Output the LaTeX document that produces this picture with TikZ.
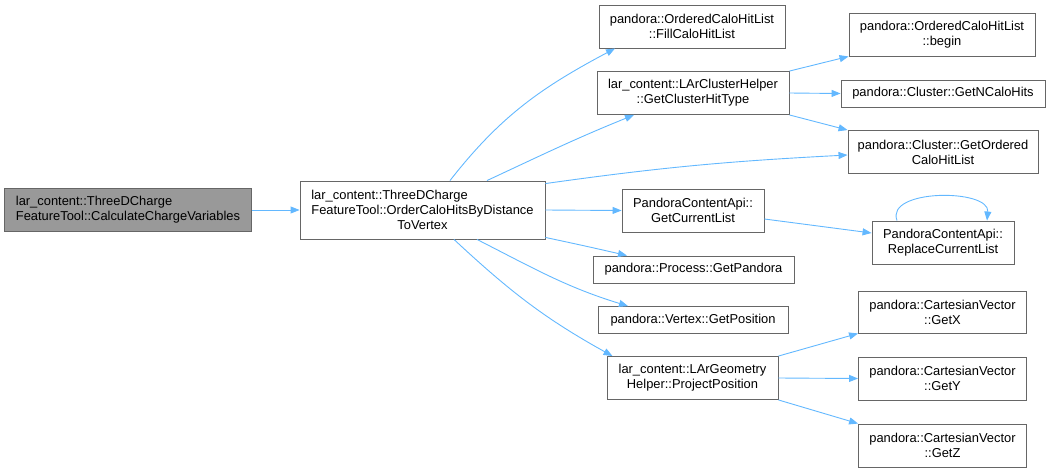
\documentclass[tikz,border=0pt]{standalone}
\usepackage{fontspec}
\setmainfont{Liberation Sans}
\usetikzlibrary{arrows.meta}
\definecolor{edgeblue}{HTML}{63B8FF}
\definecolor{nodeborder}{HTML}{666666}
\definecolor{nodegray}{HTML}{999999}
\newcommand\lastln[1]{\hspace*{\fill}#1\hspace*{\fill}}
\begin{document}
\begin{tikzpicture}[x=1pt,y=1pt,
  fn/.style={draw=nodeborder, line width=0.9pt, fill=white, inner sep=0pt,
    align=left, font=\fontsize{12.9}{15}\selectfont, text=black},
  cur/.style={fn, fill=nodegray},
  e/.style={draw=edgeblue, line width=0.9pt, -{Triangle[length=9pt,width=7pt]}}]
\useasboundingbox (0,0) rectangle (1050,-472);
\node[cur, minimum width=247pt, minimum height=43pt] (A) at (128,-210)
  {lar\_content::ThreeDCharge\\FeatureTool::CalculateChargeVariables};
\node[fn, minimum width=245pt, minimum height=58pt] (B) at (422.5,-210)
  {lar\_content::ThreeDCharge\\FeatureTool::OrderCaloHitsByDistance\\\lastln{ToVertex}};
\node[fn, minimum width=186pt, minimum height=43pt] (C) at (692,-26.5)
  {pandora::OrderedCaloHitList\\\lastln{::FillCaloHitList}};
\node[fn, minimum width=192pt, minimum height=43pt] (D) at (693,-93)
  {lar\_content::LArClusterHelper\\\lastln{::GetClusterHitType}};
\node[fn, minimum width=186pt, minimum height=43pt] (E) at (942,-34.5)
  {pandora::OrderedCaloHitList\\\lastln{::begin}};
\node[fn, minimum width=204pt, minimum height=27pt] (F) at (943,-93.5)
  {pandora::Cluster::GetNCaloHits};
\node[fn, minimum width=190pt, minimum height=43pt] (G) at (943,-152)
  {pandora::Cluster::GetOrdered\\\lastln{CaloHitList}};
\node[fn, minimum width=142pt, minimum height=43pt] (H) at (693,-210.5)
  {PandoraContentApi::\\\lastln{GetCurrentList}};
\node[fn, minimum width=142pt, minimum height=43pt] (I) at (943,-242.5)
  {PandoraContentApi::\\\lastln{ReplaceCurrentList}};
\node[fn, minimum width=201pt, minimum height=27pt] (J) at (693.5,-269.5)
  {pandora::Process::GetPandora};
\node[fn, minimum width=190pt, minimum height=27pt] (K) at (693,-320)
  {pandora::Vertex::GetPosition};
\node[fn, minimum width=171pt, minimum height=43pt] (L) at (692.5,-378)
  {lar\_content::LArGeometry\\\lastln{Helper::ProjectPosition}};
\node[fn, minimum width=168pt, minimum height=42pt] (M) at (942.5,-312)
  {pandora::CartesianVector\\\lastln{::GetX}};
\node[fn, minimum width=168pt, minimum height=43pt] (N) at (942.5,-378.5)
  {pandora::CartesianVector\\\lastln{::GetY}};
\node[fn, minimum width=168pt, minimum height=43pt] (O) at (942.5,-445.5)
  {pandora::CartesianVector\\\lastln{::GetZ}};
% edges
\draw[e] (A.east) -- (B.west);
\draw[e] ([xshift=27.5pt]B.north) to[out=52,in=208] ([xshift=-77pt]C.south);
\draw[e] ([xshift=64.5pt]B.north) to[out=25,in=202] ([xshift=-59pt]D.south);
\draw[e] ([yshift=-3pt]B.north east) to[out=8,in=183] ([yshift=-3pt]G.west);
\draw[e] (B.east) -- (H.west);
\draw[e] ([yshift=2pt]B.south east) to[out=-12,in=167] ([xshift=-66.5pt]J.north);
\draw[e] ([xshift=54.5pt]B.south) to[out=-27,in=163] ([xshift=-65pt]K.north);
\draw[e] ([xshift=31.5pt]B.south) to[out=-43,in=151] ([xshift=-80pt]L.north);
\draw[e] (D.north east) -- (E.south west);
\draw[e] (D.east) -- (F.west);
\draw[e] (D.south east) -- (G.north west);
\draw[e] ([yshift=-8.5pt]H.east) -- ([yshift=9.5pt]I.west);
\draw[e] ([xshift=-46pt]I.north) .. controls ([xshift=-58pt,yshift=32pt]I.north) and ([xshift=47pt,yshift=32pt]I.north) .. ([xshift=44pt]I.north);
\draw[e] (L.north east) -- (M.south west);
\draw[e] (L.east) -- (N.west);
\draw[e] (L.south east) -- (O.north west);
\end{tikzpicture}
\end{document}
